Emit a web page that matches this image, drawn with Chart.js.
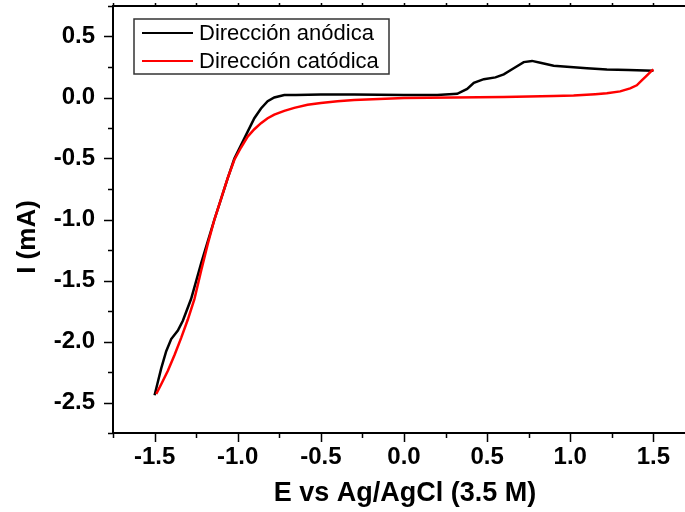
<!DOCTYPE html>
<html>
<head>
<meta charset="utf-8">
<script src="https://cdn.jsdelivr.net/npm/chart.js@4"></script>
<style>
  body { margin: 0; background: #fff; }
  canvas { display: block; }
</style>
</head>
<body>
<canvas id="cvChart" width="685" height="512"></canvas>
<script>
// anodic sweep (black)
const anodicE = [-1.50, -1.48, -1.46, -1.43, -1.40, -1.36, -1.33, -1.28, -1.22, -1.18, -1.14, -1.10, -1.06, -1.02, -0.98, -0.94, -0.90, -0.86, -0.82, -0.78, -0.72, -0.65, -0.50, -0.30, 0.00, 0.20, 0.32, 0.38, 0.42, 0.48, 0.55, 0.60, 0.66, 0.72, 0.77, 0.82, 0.90, 1.00, 1.10, 1.22, 1.35, 1.50];
const anodicI = [-2.44, -2.33, -2.22, -2.08, -1.98, -1.91, -1.83, -1.65, -1.36, -1.18, -1.00, -0.83, -0.66, -0.50, -0.39, -0.28, -0.17, -0.09, -0.03, 0.00, 0.02, 0.02, 0.025, 0.025, 0.02, 0.02, 0.03, 0.07, 0.12, 0.15, 0.165, 0.19, 0.24, 0.29, 0.30, 0.285, 0.26, 0.25, 0.24, 0.23, 0.225, 0.22];

// cathodic sweep (red)
const cathodicE = [1.50, 1.49, 1.46, 1.43, 1.40, 1.36, 1.30, 1.22, 1.15, 1.02, 0.90, 0.60, 0.30, 0.00, -0.30, -0.40, -0.50, -0.58, -0.66, -0.72, -0.78, -0.82, -0.86, -0.90, -0.94, -0.98, -1.02, -1.06, -1.10, -1.14, -1.18, -1.22, -1.26, -1.30, -1.34, -1.38, -1.42, -1.46, -1.49];
const cathodicI = [0.23, 0.22, 0.18, 0.14, 0.10, 0.075, 0.05, 0.035, 0.027, 0.016, 0.012, 0.005, 0.00, -0.005, -0.02, -0.03, -0.045, -0.06, -0.085, -0.11, -0.14, -0.17, -0.21, -0.26, -0.32, -0.41, -0.51, -0.66, -0.83, -1.00, -1.20, -1.42, -1.65, -1.82, -1.97, -2.11, -2.24, -2.35, -2.43];

const seriesNames = ["Dirección anódica", "Dirección catódica"];
const xTicks = [-1.5, -1.0, -0.5, 0.0, 0.5, 1.0, 1.5];
const xMinor = [-1.75, -1.25, -0.75, -0.25, 0.25, 0.75, 1.25];
const yTicks = [-2.5, -2.0, -1.5, -1.0, -0.5, 0.0, 0.5];
const yMinor = [-2.75, -2.25, -1.75, -1.25, -0.75, -0.25, 0.25, 0.75];
const xTitle = "E vs Ag/AgCl (3.5 M)";
const yTitle = "I (mA)";

const FONT = '"Liberation Sans", Arial, sans-serif';

function toPoints(xs, ys) {
  return xs.map((x, i) => ({ x: x, y: ys[i] }));
}

// tick marks, top frame line, axis titles and legend box
const decorations = {
  id: "decorations",
  afterDraw(chart) {
    const ctx = chart.ctx;
    const area = chart.chartArea;
    const xs = chart.scales.x;
    const ys = chart.scales.y;
    ctx.save();
    ctx.strokeStyle = "#000";
    ctx.lineWidth = 2;
    ctx.beginPath();
    ctx.moveTo(area.left - 1, area.top);
    ctx.lineTo(area.right, area.top);
    ctx.stroke();

    ctx.lineWidth = 1.5;
    ctx.beginPath();
    xTicks.concat(xMinor).forEach(v => {
      const len = xTicks.includes(v) ? 9 : 5;
      const px = Math.round(xs.getPixelForValue(v)) + 0.5;
      ctx.moveTo(px, area.bottom);
      ctx.lineTo(px, area.bottom + len);
      ctx.moveTo(px, area.top);
      ctx.lineTo(px, area.top - 3);
    });
    yTicks.concat(yMinor).forEach(v => {
      const len = yTicks.includes(v) ? 9 : 5;
      const py = Math.round(ys.getPixelForValue(v)) + 0.5;
      ctx.moveTo(area.left, py);
      ctx.lineTo(area.left - len, py);
    });
    ctx.stroke();

    // axis titles
    ctx.fillStyle = "#000";
    ctx.textAlign = "center";
    ctx.textBaseline = "middle";
    ctx.font = "bold 27px " + FONT;
    ctx.fillText(xTitle, 405, 494);
    ctx.save();
    ctx.translate(28, 237);
    ctx.rotate(-Math.PI / 2);
    ctx.font = "bold 26px " + FONT;
    ctx.fillText(yTitle, 0, 0);
    ctx.restore();

    // legend
    ctx.fillStyle = "#fff";
    ctx.fillRect(134, 19, 255, 55);
    ctx.strokeStyle = "#333";
    ctx.lineWidth = 1.5;
    ctx.strokeRect(134, 19, 255, 55);
    ctx.font = "22px " + FONT;
    ctx.textAlign = "left";
    chart.data.datasets.forEach((ds, i) => {
      const yy = 33 + i * 28;
      ctx.strokeStyle = ds.borderColor;
      ctx.lineWidth = 2;
      ctx.beginPath();
      ctx.moveTo(142, yy);
      ctx.lineTo(193, yy);
      ctx.stroke();
      ctx.fillStyle = "#000";
      ctx.fillText(ds.label, 199, yy + 1);
    });
    ctx.restore();
  }
};

new Chart(document.getElementById("cvChart"), {
  type: "scatter",
  data: {
    datasets: [
      {
        label: seriesNames[0],
        data: toPoints(anodicE, anodicI),
        showLine: true,
        borderColor: "#000000",
        borderWidth: 2.5,
        pointRadius: 0,
        order: 2
      },
      {
        label: seriesNames[1],
        data: toPoints(cathodicE, cathodicI),
        showLine: true,
        borderColor: "#ff0000",
        borderWidth: 2.5,
        pointRadius: 0,
        order: 1
      }
    ]
  },
  options: {
    responsive: false,
    animation: false,
    layout: { padding: { top: 6, right: 0, left: 0, bottom: 0 } },
    plugins: {
      legend: { display: false },
      tooltip: { enabled: false }
    },
    scales: {
      x: {
        type: "linear",
        min: -1.75,
        max: 1.69,
        afterBuildTicks: s => { s.ticks = xTicks.map(v => ({ value: v })); },
        afterFit: s => { s.height = 79; s.paddingLeft = 0; s.paddingRight = 0; },
        grid: { display: false, drawTicks: false },
        border: { display: true, color: "#000", width: 2 },
        ticks: {
          padding: 10,
          maxRotation: 0,
          color: "#000",
          font: { family: FONT, size: 24, weight: "bold" },
          callback: v => v.toFixed(1)
        }
      },
      y: {
        type: "linear",
        min: -2.75,
        max: 0.75,
        afterBuildTicks: s => { s.ticks = yTicks.map(v => ({ value: v })); },
        afterFit: s => { s.width = 113; s.paddingTop = 0; s.paddingBottom = 0; },
        grid: { display: false, drawTicks: false },
        border: { display: true, color: "#000", width: 2 },
        ticks: {
          padding: 18,
          color: "#000",
          font: { family: FONT, size: 24, weight: "bold" },
          callback: v => v.toFixed(1)
        }
      }
    }
  },
  plugins: [decorations]
});
</script>
</body>
</html>
